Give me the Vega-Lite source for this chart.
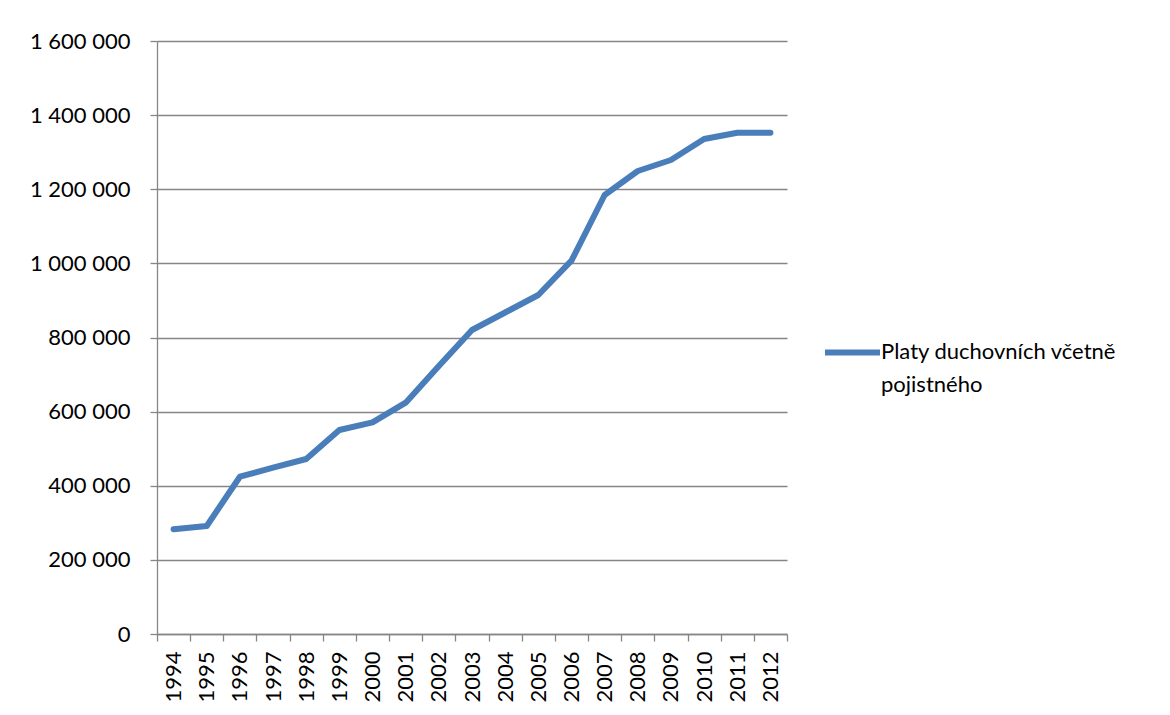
{
  "$schema": "https://vega.github.io/schema/vega-lite/v6.json",
  "autosize": "none",
  "width": 630,
  "height": 593,
  "padding": {"left": 157, "top": 41, "right": 383, "bottom": 81},
  "background": "white",
  "data": {
    "values": [
      {"rok": "1994", "hodnota": 282500, "serie": "Platy duchovních včetně pojistného"},
      {"rok": "1995", "hodnota": 291400, "serie": "Platy duchovních včetně pojistného"},
      {"rok": "1996", "hodnota": 424400, "serie": "Platy duchovních včetně pojistného"},
      {"rok": "1997", "hodnota": 448700, "serie": "Platy duchovních včetně pojistného"},
      {"rok": "1998", "hodnota": 472200, "serie": "Platy duchovních včetně pojistného"},
      {"rok": "1999", "hodnota": 550400, "serie": "Platy duchovních včetně pojistného"},
      {"rok": "2000", "hodnota": 571200, "serie": "Platy duchovních včetně pojistného"},
      {"rok": "2001", "hodnota": 624100, "serie": "Platy duchovních včetně pojistného"},
      {"rok": "2002", "hodnota": 723100, "serie": "Platy duchovních včetně pojistného"},
      {"rok": "2003", "hodnota": 820200, "serie": "Platy duchovních včetně pojistného"},
      {"rok": "2004", "hodnota": 867400, "serie": "Platy duchovních včetně pojistného"},
      {"rok": "2005", "hodnota": 914700, "serie": "Platy duchovních včetně pojistného"},
      {"rok": "2006", "hodnota": 1007200, "serie": "Platy duchovních včetně pojistného"},
      {"rok": "2007", "hodnota": 1184500, "serie": "Platy duchovních včetně pojistného"},
      {"rok": "2008", "hodnota": 1249200, "serie": "Platy duchovních včetně pojistného"},
      {"rok": "2009", "hodnota": 1278900, "serie": "Platy duchovních včetně pojistného"},
      {"rok": "2010", "hodnota": 1335600, "serie": "Platy duchovních včetně pojistného"},
      {"rok": "2011", "hodnota": 1352600, "serie": "Platy duchovních včetně pojistného"},
      {"rok": "2012", "hodnota": 1352600, "serie": "Platy duchovních včetně pojistného"}
    ]
  },
  "mark": {"type": "line", "strokeWidth": 6, "strokeCap": "round", "strokeJoin": "round"},
  "encoding": {
    "x": {
      "field": "rok",
      "type": "ordinal",
      "bandPosition": 0.5,
      "scale": {"type": "band", "paddingInner": 0, "paddingOuter": 0},
      "axis": {
        "title": null,
        "labelAngle": -90,
        "labelAlign": "right",
        "labelBaseline": "middle",
        "labelPadding": 10,
        "tickBand": "extent",
        "tickSize": 7,
        "grid": false
      }
    },
    "y": {
      "field": "hodnota",
      "type": "quantitative",
      "scale": {"domain": [0, 1600000], "nice": false},
      "axis": {
        "title": null,
        "values": [0, 200000, 400000, 600000, 800000, 1000000, 1200000, 1400000, 1600000],
        "format": ",d",
        "grid": true,
        "tickSize": 7,
        "labelPadding": 20
      }
    },
    "color": {
      "field": "serie",
      "type": "nominal",
      "scale": {"range": ["#4A7EBB"]},
      "legend": {
        "title": null,
        "orient": "none",
        "legendX": 665,
        "legendY": 281,
        "padding": 0,
        "symbolType": "stroke",
        "symbolSize": 3025,
        "symbolStrokeWidth": 6,
        "labelOffset": -2,
        "labelLimit": 400,
        "labelExpr": "['Platy duchovních včetně', 'pojistného']",
        "labelBaseline": "top",
        "encode": {
          "labels": {"update": {"lineHeight": {"value": 33}, "dy": {"value": -11}}}
        }
      }
    }
  },
  "config": {
    "locale": {
      "number": {"decimal": ",", "thousands": " ", "grouping": [3], "currency": ["", " Kč"]}
    },
    "view": {"stroke": null},
    "axis": {
      "labelFont": "Lato",
      "labelFontSize": 22,
      "labelColor": "#000000",
      "domainColor": "#868686",
      "domainWidth": 1.3,
      "tickColor": "#868686",
      "tickWidth": 1.3,
      "gridColor": "#868686",
      "gridWidth": 1.3,
      "gridOpacity": 1,
      "labelOverlap": false
    },
    "legend": {
      "labelFont": "Lato",
      "labelFontSize": 22,
      "labelColor": "#000000"
    }
  }
}
